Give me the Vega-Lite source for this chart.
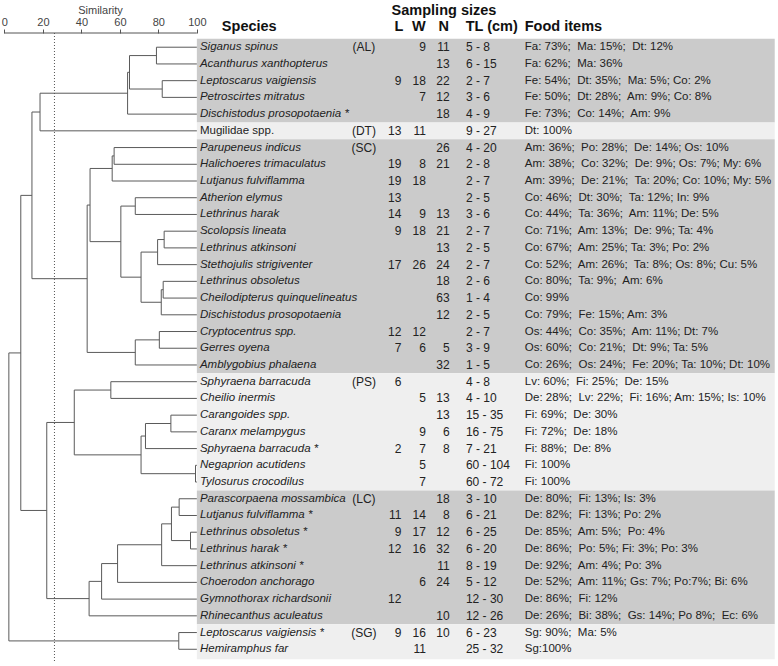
{
  "$schema": "https://vega.github.io/schema/vega-lite/v6.json",
  "autosize": {"type": "none"},
  "padding": {"top": 33, "left": 0, "right": 0, "bottom": 0},
  "width": 778,
  "height": 633,
  "background": "white",
  "config": {"view": {"stroke": null}, "font": "Liberation Sans"},
  "datasets": {
    "rows": [
      {"row": 0, "sp": "Siganus spinus", "it": true, "grp": "(AL)", "L": "", "W": "9", "N": "11", "TL": "5 - 8", "food": "Fa: 73%;\u00a0 Ma: 15%;\u00a0 Dt: 12%"},
      {"row": 1, "sp": "Acanthurus xanthopterus", "it": true, "grp": "", "L": "", "W": "", "N": "13", "TL": "6 - 15", "food": "Fa: 62%;\u00a0 Ma: 36%"},
      {"row": 2, "sp": "Leptoscarus vaigiensis", "it": true, "grp": "", "L": "9", "W": "18", "N": "22", "TL": "2 - 7", "food": "Fe: 54%;\u00a0 Dt: 35%;\u00a0 Ma: 5%; Co: 2%"},
      {"row": 3, "sp": "Petroscirtes mitratus", "it": true, "grp": "", "L": "", "W": "7", "N": "12", "TL": "3 - 6", "food": "Fe: 50%;\u00a0 Dt: 28%;\u00a0 Am: 9%; Co: 8%"},
      {"row": 4, "sp": "Dischistodus prosopotaenia *", "it": true, "grp": "", "L": "", "W": "", "N": "18", "TL": "4 - 9", "food": "Fe: 73%;\u00a0 Co: 14%;\u00a0 Am: 9%"},
      {"row": 5, "sp": "Mugilidae spp.", "it": false, "grp": "(DT)", "L": "13", "W": "11", "N": "", "TL": "9 - 27", "food": "Dt: 100%"},
      {"row": 6, "sp": "Parupeneus indicus", "it": true, "grp": "(SC)", "L": "", "W": "", "N": "26", "TL": "4 - 20", "food": "Am: 36%;\u00a0 Po: 28%;\u00a0 De: 14%; Os: 10%"},
      {"row": 7, "sp": "Halichoeres trimaculatus", "it": true, "grp": "", "L": "19", "W": "8", "N": "21", "TL": "2 - 8", "food": "Am: 38%;\u00a0 Co: 32%;\u00a0 De: 9%; Os: 7%; My: 6%"},
      {"row": 8, "sp": "Lutjanus fulviflamma", "it": true, "grp": "", "L": "19", "W": "18", "N": "", "TL": "2 - 7", "food": "Am: 39%;\u00a0 De: 21%;\u00a0 Ta: 20%; Co: 10%; My: 5%"},
      {"row": 9, "sp": "Atherion elymus", "it": true, "grp": "", "L": "13", "W": "", "N": "", "TL": "2 - 5", "food": "Co: 46%;\u00a0 Dt: 30%;\u00a0 Ta: 12%; In: 9%"},
      {"row": 10, "sp": "Lethrinus harak", "it": true, "grp": "", "L": "14", "W": "9", "N": "13", "TL": "3 - 6", "food": "Co: 44%;\u00a0 Ta: 36%;\u00a0 Am: 11%; De: 5%"},
      {"row": 11, "sp": "Scolopsis lineata", "it": true, "grp": "", "L": "9", "W": "18", "N": "21", "TL": "2 - 7", "food": "Co: 71%;\u00a0 Am: 13%;\u00a0 De: 9%; Ta: 4%"},
      {"row": 12, "sp": "Lethrinus atkinsoni", "it": true, "grp": "", "L": "", "W": "", "N": "13", "TL": "2 - 5", "food": "Co: 67%;\u00a0 Am: 25%; Ta: 3%; Po: 2%"},
      {"row": 13, "sp": "Stethojulis strigiventer", "it": true, "grp": "", "L": "17", "W": "26", "N": "24", "TL": "2 - 7", "food": "Co: 52%;\u00a0 Am: 26%;\u00a0 Ta: 8%; Os: 8%; Cu: 5%"},
      {"row": 14, "sp": "Lethrinus obsoletus", "it": true, "grp": "", "L": "", "W": "", "N": "18", "TL": "2 - 6", "food": "Co: 80%;\u00a0 Ta: 9%;\u00a0 Am: 6%"},
      {"row": 15, "sp": "Cheilodipterus quinquelineatus", "it": true, "grp": "", "L": "", "W": "", "N": "63", "TL": "1 - 4", "food": "Co: 99%"},
      {"row": 16, "sp": "Dischistodus prosopotaenia", "it": true, "grp": "", "L": "", "W": "", "N": "12", "TL": "2 - 5", "food": "Co: 79%;\u00a0 Fe: 15%; Am: 3%"},
      {"row": 17, "sp": "Cryptocentrus spp.", "it": true, "grp": "", "L": "12", "W": "12", "N": "", "TL": "2 - 7", "food": "Os: 44%;\u00a0 Co: 35%;\u00a0 Am: 11%; Dt: 7%"},
      {"row": 18, "sp": "Gerres oyena", "it": true, "grp": "", "L": "7", "W": "6", "N": "5", "TL": "3 - 9", "food": "Os: 60%;\u00a0 Co: 21%;\u00a0 Dt: 9%; Ta: 5%"},
      {"row": 19, "sp": "Amblygobius phalaena", "it": true, "grp": "", "L": "", "W": "", "N": "32", "TL": "1 - 5", "food": "Co: 26%;\u00a0 Os: 24%;\u00a0 Fe: 20%; Ta: 10%; Dt: 10%"},
      {"row": 20, "sp": "Sphyraena barracuda", "it": true, "grp": "(PS)", "L": "6", "W": "", "N": "", "TL": "4 - 8", "food": "Lv: 60%;\u00a0 Fi: 25%;\u00a0 De: 15%"},
      {"row": 21, "sp": "Cheilio inermis", "it": true, "grp": "", "L": "", "W": "5", "N": "13", "TL": "4 - 10", "food": "De: 28%;\u00a0 Lv: 22%;\u00a0 Fi: 16%; Am: 15%; Is: 10%"},
      {"row": 22, "sp": "Carangoides spp.", "it": true, "grp": "", "L": "", "W": "", "N": "13", "TL": "15 - 35", "food": "Fi: 69%;\u00a0 De: 30%"},
      {"row": 23, "sp": "Caranx melampygus", "it": true, "grp": "", "L": "", "W": "9", "N": "6", "TL": "16 - 75", "food": "Fi: 72%;\u00a0 De: 18%"},
      {"row": 24, "sp": "Sphyraena barracuda *", "it": true, "grp": "", "L": "2", "W": "7", "N": "8", "TL": "7 - 21", "food": "Fi: 88%;\u00a0 De: 8%"},
      {"row": 25, "sp": "Negaprion acutidens", "it": true, "grp": "", "L": "", "W": "5", "N": "", "TL": "60 - 104", "food": "Fi: 100%"},
      {"row": 26, "sp": "Tylosurus crocodilus", "it": true, "grp": "", "L": "", "W": "7", "N": "", "TL": "60 - 72", "food": "Fi: 100%"},
      {"row": 27, "sp": "Parascorpaena mossambica", "it": true, "grp": "(LC)", "L": "", "W": "", "N": "18", "TL": "3 - 10", "food": "De: 80%;\u00a0 Fi: 13%; Is: 3%"},
      {"row": 28, "sp": "Lutjanus fulviflamma *", "it": true, "grp": "", "L": "11", "W": "14", "N": "8", "TL": "6 - 21", "food": "De: 82%;\u00a0 Fi: 13%; Po: 2%"},
      {"row": 29, "sp": "Lethrinus obsoletus *", "it": true, "grp": "", "L": "9", "W": "17", "N": "12", "TL": "6 - 25", "food": "De: 85%;\u00a0 Am: 5%;\u00a0 Po: 4%"},
      {"row": 30, "sp": "Lethrinus harak *", "it": true, "grp": "", "L": "12", "W": "16", "N": "32", "TL": "6 - 20", "food": "De: 86%;\u00a0 Po: 5%; Fi: 3%; Po: 3%"},
      {"row": 31, "sp": "Lethrinus atkinsoni *", "it": true, "grp": "", "L": "", "W": "", "N": "11", "TL": "8 - 19", "food": "De: 92%;\u00a0 Am: 4%; Po: 3%"},
      {"row": 32, "sp": "Choerodon anchorago", "it": true, "grp": "", "L": "", "W": "6", "N": "24", "TL": "5 - 12", "food": "De: 52%;\u00a0 Am: 11%; Gs: 7%; Po:7%; Bi: 6%"},
      {"row": 33, "sp": "Gymnothorax richardsonii", "it": true, "grp": "", "L": "12", "W": "", "N": "", "TL": "12 - 30", "food": "De: 86%;\u00a0 Fi: 12%"},
      {"row": 34, "sp": "Rhinecanthus aculeatus", "it": true, "grp": "", "L": "", "W": "", "N": "10", "TL": "12 - 26", "food": "De: 26%;\u00a0 Bi: 38%;\u00a0 Gs: 14%; Po 8%;\u00a0 Ec: 6%"},
      {"row": 35, "sp": "Leptoscarus vaigiensis *", "it": true, "grp": "(SG)", "L": "9", "W": "16", "N": "10", "TL": "6 - 23", "food": "Sg: 90%;\u00a0 Ma: 5%"},
      {"row": 36, "sp": "Hemiramphus far", "it": true, "grp": "", "L": "", "W": "11", "N": "", "TL": "25 - 32", "food": "Sg:100%"}
    ],
    "groups": [
      {"grp": "AL", "top": -0.5, "bottom": 4.5, "shade": "dark"},
      {"grp": "DT", "top": 4.5, "bottom": 5.5, "shade": "light"},
      {"grp": "SC", "top": 5.5, "bottom": 19.5, "shade": "dark"},
      {"grp": "PS", "top": 19.5, "bottom": 26.5, "shade": "light"},
      {"grp": "LC", "top": 26.5, "bottom": 34.5, "shade": "dark"},
      {"grp": "SG", "top": 34.5, "bottom": 36.6, "shade": "light"}
    ],
    "segments": [
      {"x": 100, "x2": 79, "y": 0, "y2": 0},
      {"x": 100, "x2": 79, "y": 1, "y2": 1},
      {"x": 100, "x2": 82, "y": 2, "y2": 2},
      {"x": 100, "x2": 82, "y": 3, "y2": 3},
      {"x": 100, "x2": 64, "y": 4, "y2": 4},
      {"x": 100, "x2": 18.5, "y": 5, "y2": 5},
      {"x": 100, "x2": 57, "y": 6, "y2": 6},
      {"x": 100, "x2": 57, "y": 7, "y2": 7},
      {"x": 100, "x2": 56, "y": 8, "y2": 8},
      {"x": 100, "x2": 68, "y": 9, "y2": 9},
      {"x": 100, "x2": 68, "y": 10, "y2": 10},
      {"x": 100, "x2": 83, "y": 11, "y2": 11},
      {"x": 100, "x2": 83, "y": 12, "y2": 12},
      {"x": 100, "x2": 79.6, "y": 13, "y2": 13},
      {"x": 100, "x2": 82.5, "y": 14, "y2": 14},
      {"x": 100, "x2": 82.5, "y": 15, "y2": 15},
      {"x": 100, "x2": 81.5, "y": 16, "y2": 16},
      {"x": 100, "x2": 80.5, "y": 17, "y2": 17},
      {"x": 100, "x2": 80.5, "y": 18, "y2": 18},
      {"x": 100, "x2": 68, "y": 19, "y2": 19},
      {"x": 100, "x2": 55.3, "y": 20, "y2": 20},
      {"x": 100, "x2": 55.3, "y": 21, "y2": 21},
      {"x": 100, "x2": 86.5, "y": 22, "y2": 22},
      {"x": 100, "x2": 86.5, "y": 23, "y2": 23},
      {"x": 100, "x2": 73.3, "y": 24, "y2": 24},
      {"x": 100, "x2": 99.3, "y": 25, "y2": 25},
      {"x": 100, "x2": 99.3, "y": 26, "y2": 26},
      {"x": 100, "x2": 90.8, "y": 27, "y2": 27},
      {"x": 100, "x2": 90.8, "y": 28, "y2": 28},
      {"x": 100, "x2": 96.7, "y": 29, "y2": 29},
      {"x": 100, "x2": 96.7, "y": 30, "y2": 30},
      {"x": 100, "x2": 81.7, "y": 31, "y2": 31},
      {"x": 100, "x2": 58.8, "y": 32, "y2": 32},
      {"x": 100, "x2": 50.5, "y": 33, "y2": 33},
      {"x": 100, "x2": 44, "y": 34, "y2": 34},
      {"x": 100, "x2": 90.6, "y": 35, "y2": 35},
      {"x": 100, "x2": 90.6, "y": 36, "y2": 36},
      {"x": 79, "x2": 65, "y": 0.5, "y2": 0.5},
      {"x": 82, "x2": 65, "y": 2.5, "y2": 2.5},
      {"x": 65, "x2": 64, "y": 1.5, "y2": 1.5},
      {"x": 64, "x2": 18.5, "y": 2.75, "y2": 2.75},
      {"x": 18.5, "x2": 14.3, "y": 3.875, "y2": 3.875},
      {"x": 57, "x2": 56, "y": 6.5, "y2": 6.5},
      {"x": 56, "x2": 44.5, "y": 7.25, "y2": 7.25},
      {"x": 68, "x2": 60.5, "y": 9.5, "y2": 9.5},
      {"x": 83, "x2": 79.6, "y": 11.5, "y2": 11.5},
      {"x": 79.6, "x2": 71, "y": 12.25, "y2": 12.25},
      {"x": 82.5, "x2": 81.5, "y": 14.5, "y2": 14.5},
      {"x": 81.5, "x2": 71, "y": 15.25, "y2": 15.25},
      {"x": 71, "x2": 60.5, "y": 13.75, "y2": 13.75},
      {"x": 60.5, "x2": 44.5, "y": 11.625, "y2": 11.625},
      {"x": 44.5, "x2": 43, "y": 9.4375, "y2": 9.4375},
      {"x": 80.5, "x2": 68, "y": 17.5, "y2": 17.5},
      {"x": 68, "x2": 43, "y": 18.25, "y2": 18.25},
      {"x": 43, "x2": 14.3, "y": 13.84, "y2": 13.84},
      {"x": 14.3, "x2": 8.5, "y": 8.86, "y2": 8.86},
      {"x": 55.3, "x2": 36.3, "y": 20.5, "y2": 20.5},
      {"x": 86.5, "x2": 73.3, "y": 22.5, "y2": 22.5},
      {"x": 73.3, "x2": 71, "y": 23.25, "y2": 23.25},
      {"x": 99.3, "x2": 71, "y": 25.5, "y2": 25.5},
      {"x": 71, "x2": 36.3, "y": 24.375, "y2": 24.375},
      {"x": 36.3, "x2": 22, "y": 22.4375, "y2": 22.4375},
      {"x": 90.8, "x2": 86.8, "y": 27.5, "y2": 27.5},
      {"x": 96.7, "x2": 86.8, "y": 29.5, "y2": 29.5},
      {"x": 86.8, "x2": 81.7, "y": 28.5, "y2": 28.5},
      {"x": 81.7, "x2": 58.8, "y": 29.75, "y2": 29.75},
      {"x": 58.8, "x2": 50.5, "y": 30.875, "y2": 30.875},
      {"x": 50.5, "x2": 44, "y": 31.94, "y2": 31.94},
      {"x": 44, "x2": 22, "y": 32.97, "y2": 32.97},
      {"x": 22, "x2": 8.5, "y": 27.7, "y2": 27.7},
      {"x": 8.5, "x2": 2.3, "y": 18.28, "y2": 18.28},
      {"x": 90.6, "x2": 2.3, "y": 35.5, "y2": 35.5},
      {"x": 79, "x2": 79, "y": 0, "y2": 1},
      {"x": 82, "x2": 82, "y": 2, "y2": 3},
      {"x": 65, "x2": 65, "y": 0.5, "y2": 2.5},
      {"x": 64, "x2": 64, "y": 1.5, "y2": 4},
      {"x": 18.5, "x2": 18.5, "y": 2.75, "y2": 5},
      {"x": 57, "x2": 57, "y": 6, "y2": 7},
      {"x": 56, "x2": 56, "y": 6.5, "y2": 8},
      {"x": 68, "x2": 68, "y": 9, "y2": 10},
      {"x": 83, "x2": 83, "y": 11, "y2": 12},
      {"x": 79.6, "x2": 79.6, "y": 11.5, "y2": 13},
      {"x": 82.5, "x2": 82.5, "y": 14, "y2": 15},
      {"x": 81.5, "x2": 81.5, "y": 14.5, "y2": 16},
      {"x": 71, "x2": 71, "y": 12.25, "y2": 15.25},
      {"x": 60.5, "x2": 60.5, "y": 9.5, "y2": 13.75},
      {"x": 44.5, "x2": 44.5, "y": 7.25, "y2": 11.625},
      {"x": 80.5, "x2": 80.5, "y": 17, "y2": 18},
      {"x": 68, "x2": 68, "y": 17.5, "y2": 19},
      {"x": 43, "x2": 43, "y": 9.4375, "y2": 18.25},
      {"x": 14.3, "x2": 14.3, "y": 3.875, "y2": 13.84},
      {"x": 55.3, "x2": 55.3, "y": 20, "y2": 21},
      {"x": 86.5, "x2": 86.5, "y": 22, "y2": 23},
      {"x": 73.3, "x2": 73.3, "y": 22.5, "y2": 24},
      {"x": 99.3, "x2": 99.3, "y": 25, "y2": 26},
      {"x": 71, "x2": 71, "y": 23.25, "y2": 25.5},
      {"x": 36.3, "x2": 36.3, "y": 20.5, "y2": 24.375},
      {"x": 90.8, "x2": 90.8, "y": 27, "y2": 28},
      {"x": 96.7, "x2": 96.7, "y": 29, "y2": 30},
      {"x": 86.8, "x2": 86.8, "y": 27.5, "y2": 29.5},
      {"x": 81.7, "x2": 81.7, "y": 28.5, "y2": 31},
      {"x": 58.8, "x2": 58.8, "y": 29.75, "y2": 32},
      {"x": 50.5, "x2": 50.5, "y": 30.875, "y2": 33},
      {"x": 44, "x2": 44, "y": 31.94, "y2": 34},
      {"x": 22, "x2": 22, "y": 22.4375, "y2": 32.97},
      {"x": 8.5, "x2": 8.5, "y": 8.86, "y2": 27.7},
      {"x": 90.6, "x2": 90.6, "y": 35, "y2": 36},
      {"x": 2.3, "x2": 2.3, "y": 18.28, "y2": 35.5}
    ],
    "headers": [
      {"label": "Species", "pos": 113, "lvl": -1.18},
      {"label": "Food items", "pos": 270.4, "lvl": -1.18},
      {"label": "TL (cm)", "pos": 239.7, "lvl": -1.18},
      {"label": "Sampling sizes", "pos": 201.2, "lvl": -2.17}
    ],
    "colheads": [
      {"label": "L", "pos": 205},
      {"label": "W", "pos": 215.3},
      {"label": "N", "pos": 228.3}
    ]
  },
  "layer": [
    {
      "data": {"name": "groups"},
      "mark": {"type": "rect"},
      "encoding": {
        "x": {"datum": 100, "type": "quantitative", "scale": {"domain": [-2.3, 402], "nice": false, "zero": false}},
        "x2": {"datum": 400.3},
        "y": {"field": "top", "type": "quantitative", "axis": null, "scale": {"domain": [-0.85, 37], "reverse": true, "nice": false, "zero": false}},
        "y2": {"field": "bottom"},
        "color": {"field": "shade", "type": "nominal", "legend": null, "scale": {"domain": ["dark", "light"], "range": ["#cbcbcb", "#efefef"]}}
      }
    },
    {
      "data": {"name": "segments"},
      "mark": {"type": "rule", "color": "#5a5a5a", "strokeWidth": 1},
      "encoding": {
        "x": {"field": "x", "type": "quantitative",
              "scale": {"domain": [-2.3, 402], "nice": false, "zero": false},
              "axis": {"orient": "top", "values": [0, 20, 40, 60, 80, 100], "domain": false, "grid": false,
                       "ticks": true, "tickSize": 4, "tickColor": "#555", "labelFlush": false,
                       "labelFontSize": 11, "labelColor": "#444", "labelPadding": 2,
                       "title": "Similarity", "titleFontSize": 11, "titleFontWeight": "normal", "titleColor": "#444",
                       "titleX": 100, "titleY": -23, "titleBaseline": "middle", "titleAlign": "center"}},
        "x2": {"field": "x2"},
        "y": {"field": "y", "type": "quantitative", "axis": null, "scale": {"domain": [-0.85, 37], "reverse": true, "nice": false, "zero": false}},
        "y2": {"field": "y2"}
      }
    },
    {
      "data": {"values": [{}]},
      "mark": {"type": "rule", "color": "#555", "strokeWidth": 1},
      "encoding": {
        "x": {"datum": 0, "type": "quantitative"},
        "x2": {"datum": 100},
        "y": {"datum": -0.85, "type": "quantitative", "axis": null}
      }
    },
    {
      "data": {"values": [{}]},
      "mark": {"type": "rule", "color": "#555", "strokeWidth": 1, "strokeDash": [1, 2]},
      "encoding": {
        "x": {"datum": 26, "type": "quantitative"},
        "y": {"datum": -0.85, "type": "quantitative", "axis": null},
        "y2": {"datum": 36.8}
      }
    },
    {
      "data": {"name": "rows"},
      "transform": [{"filter": "datum.it"}],
      "mark": {"type": "text", "align": "left", "baseline": "middle", "fontSize": 11.5, "fontStyle": "italic", "color": "#222"},
      "encoding": {
        "x": {"datum": 101.6, "type": "quantitative"},
        "y": {"field": "row", "type": "quantitative", "axis": null},
        "text": {"field": "sp"}
      }
    },
    {
      "data": {"name": "rows"},
      "transform": [{"filter": "!datum.it"}],
      "mark": {"type": "text", "align": "left", "baseline": "middle", "fontSize": 11.5, "color": "#222"},
      "encoding": {
        "x": {"datum": 101.6, "type": "quantitative"},
        "y": {"field": "row", "type": "quantitative", "axis": null},
        "text": {"field": "sp"}
      }
    },
    {
      "data": {"name": "rows"},
      "mark": {"type": "text", "align": "center", "baseline": "middle", "fontSize": 12, "color": "#222"},
      "encoding": {
        "x": {"datum": 186.8, "type": "quantitative"},
        "y": {"field": "row", "type": "quantitative", "axis": null},
        "text": {"field": "grp"}
      }
    },
    {
      "data": {"name": "rows"},
      "mark": {"type": "text", "align": "right", "baseline": "middle", "fontSize": 12, "color": "#222"},
      "encoding": {
        "x": {"datum": 206.3, "type": "quantitative"},
        "y": {"field": "row", "type": "quantitative", "axis": null},
        "text": {"field": "L"}
      }
    },
    {
      "data": {"name": "rows"},
      "mark": {"type": "text", "align": "right", "baseline": "middle", "fontSize": 12, "color": "#222"},
      "encoding": {
        "x": {"datum": 219, "type": "quantitative"},
        "y": {"field": "row", "type": "quantitative", "axis": null},
        "text": {"field": "W"}
      }
    },
    {
      "data": {"name": "rows"},
      "mark": {"type": "text", "align": "right", "baseline": "middle", "fontSize": 12, "color": "#222"},
      "encoding": {
        "x": {"datum": 231.4, "type": "quantitative"},
        "y": {"field": "row", "type": "quantitative", "axis": null},
        "text": {"field": "N"}
      }
    },
    {
      "data": {"name": "rows"},
      "mark": {"type": "text", "align": "left", "baseline": "middle", "fontSize": 12, "color": "#222"},
      "encoding": {
        "x": {"datum": 239.8, "type": "quantitative"},
        "y": {"field": "row", "type": "quantitative", "axis": null},
        "text": {"field": "TL"}
      }
    },
    {
      "data": {"name": "rows"},
      "mark": {"type": "text", "align": "left", "baseline": "middle", "fontSize": 11.5, "color": "#222"},
      "encoding": {
        "x": {"datum": 270.4, "type": "quantitative"},
        "y": {"field": "row", "type": "quantitative", "axis": null},
        "text": {"field": "food"}
      }
    },
    {
      "data": {"name": "headers"},
      "mark": {"type": "text", "align": "left", "baseline": "middle", "fontSize": 14.5, "fontWeight": "bold", "color": "#111"},
      "encoding": {
        "x": {"field": "pos", "type": "quantitative"},
        "y": {"field": "lvl", "type": "quantitative", "axis": null},
        "text": {"field": "label"}
      }
    },
    {
      "data": {"name": "colheads"},
      "mark": {"type": "text", "align": "center", "baseline": "middle", "fontSize": 14.5, "fontWeight": "bold", "color": "#111"},
      "encoding": {
        "x": {"field": "pos", "type": "quantitative"},
        "y": {"datum": -1.18, "type": "quantitative", "axis": null},
        "text": {"field": "label"}
      }
    }
  ]
}
